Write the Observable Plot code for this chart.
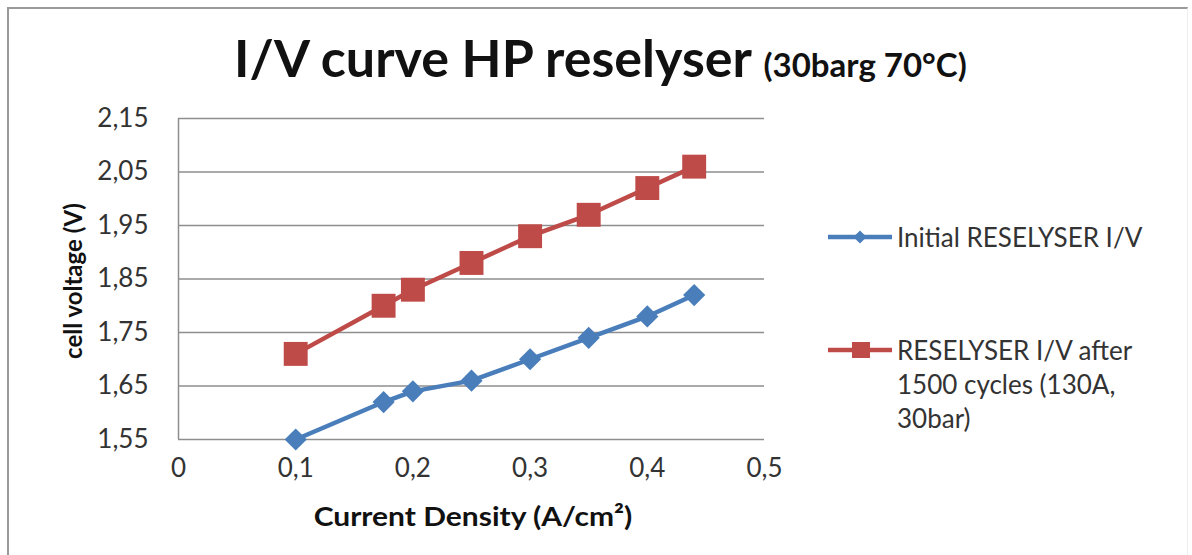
<!DOCTYPE html>
<html>
<head>
<meta charset="utf-8">
<script src="https://cdn.jsdelivr.net/npm/d3@7"></script>
<script src="https://cdn.jsdelivr.net/npm/@observablehq/plot@0.6"></script>
<style>
  html, body { margin: 0; padding: 0; background: #fff; }
  #wrap { position: relative; width: 1192px; height: 555px; overflow: hidden; font-family: Lato, "Open Sans", sans-serif; }
  #frame { position: absolute; left: 7px; top: 7px; width: 1181px; height: 560px; border-left: 2px solid #9a9a9a; border-top: 2px solid #9a9a9a; border-right: 1px solid #eeeeee; box-sizing: border-box; }
  .abs { position: absolute; white-space: nowrap; color: #111; line-height: 1; }
  #title { left: 234px; top: 31px; font-size: 52px; font-weight: 700; }
  #title span { font-size: 33px; }
  #ylab { left: 73px; top: 281px; font-size: 24px; font-weight: 700; transform: translate(-50%, -50%) rotate(-90deg); }
  #xlab { left: 473px; top: 515px; font-size: 27px; font-weight: 700; transform: translate(-50%, -50%) scaleX(1.11); }
  .leg { font-size: 26px; color: #333; line-height: 34px; }
  svg.plot { position: absolute; left: 0; top: 0; }
</style>
</head>
<body>
<div id="wrap">
  <div id="frame"></div>
  <div id="chart"></div>
  <div id="title" class="abs">I/V curve HP reselyser <span>(30barg 70°C)</span></div>
  <div id="ylab" class="abs">cell voltage (V)</div>
  <div id="xlab" class="abs">Current Density (A/cm²)</div>
  <svg id="legsvg" width="80" height="200" style="position:absolute;left:820px;top:200px"></svg>
  <div class="abs leg" style="left:897px; top:220px">Initial RESELYSER I/V</div>
  <div class="abs leg" style="left:897px; top:333px">RESELYSER I/V after<br>1500 cycles (130A,<br>30bar)</div>
</div>
<script>
const seriesNames = ["Initial RESELYSER I/V", "RESELYSER I/V after 1500 cycles (130A, 30bar)"];
const currentDensity = [0.1, 0.175, 0.2, 0.25, 0.3, 0.35, 0.4, 0.44];
const initialVoltage = [1.55, 1.62, 1.64, 1.66, 1.70, 1.74, 1.78, 1.82];
const afterVoltage = [1.71, 1.80, 1.83, 1.88, 1.93, 1.97, 2.02, 2.06];
const yTicks = [1.55, 1.65, 1.75, 1.85, 1.95, 2.05, 2.15];
const xTicks = [0, 0.1, 0.2, 0.3, 0.4, 0.5];
const colors = ["#4a7ebb", "#be4b48"];

const initData = currentDensity.map((x, i) => ({x, y: initialVoltage[i]}));
const afterData = currentDensity.map((x, i) => ({x, y: afterVoltage[i]}));
const comma = (d, n) => d === 0 ? "0" : d.toFixed(n).replace(".", ",");

const chart = Plot.plot({
  width: 1192,
  height: 555,
  marginLeft: 178,
  marginRight: 428,
  marginTop: 118,
  marginBottom: 116,
  style: {fontFamily: "Lato, sans-serif", fontSize: "26px", color: "#333", background: "transparent", overflow: "visible"},
  x: {domain: [0, 0.5], ticks: xTicks, tickFormat: d => comma(d, 1), tickSize: 0, tickPadding: 19, label: null},
  y: {domain: [1.55, 2.15], ticks: yTicks, tickFormat: d => comma(d, 2), tickSize: 0, tickPadding: 30, label: null},
  marks: [
    Plot.ruleY(yTicks, {stroke: "#8e8e8e", strokeWidth: 1.5}),
    Plot.ruleX([0], {y1: 1.55, y2: 2.15, stroke: "#8e8e8e", strokeWidth: 1.5}),
    Plot.line(initData, {x: "x", y: "y", stroke: colors[0], strokeWidth: 4.5}),
    Plot.line(afterData, {x: "x", y: "y", stroke: colors[1], strokeWidth: 4.5}),
    Plot.dot(initData, {x: "x", y: "y", symbol: "diamond2", r: 10, fill: colors[0], stroke: "none"}),
    Plot.dot(afterData, {x: "x", y: "y", symbol: "square", r: 13.5, fill: colors[1], stroke: "none"})
  ]
});
document.getElementById("chart").appendChild(chart);

// legend swatches
const leg = d3.select("#legsvg");
leg.append("line").attr("x1", 8).attr("x2", 72).attr("y1", 37).attr("y2", 37).attr("stroke", colors[0]).attr("stroke-width", 4.5);
leg.append("path").attr("d", d3.symbol(d3.symbolDiamond2, 110)()).attr("transform", "translate(40,37)").attr("fill", colors[0]);
leg.append("line").attr("x1", 8).attr("x2", 72).attr("y1", 150).attr("y2", 150).attr("stroke", colors[1]).attr("stroke-width", 4.5);
leg.append("rect").attr("x", 32).attr("y", 142).attr("width", 18).attr("height", 16).attr("fill", colors[1]);
</script>
</body>
</html>
